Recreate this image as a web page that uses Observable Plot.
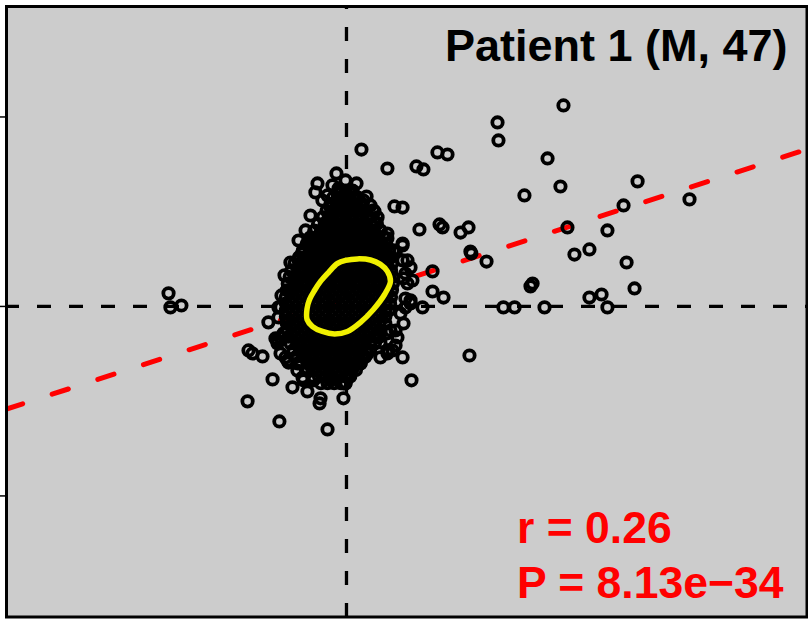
<!DOCTYPE html>
<html>
<head>
<meta charset="utf-8">
<script src="https://cdn.jsdelivr.net/npm/d3@7"></script>
<script src="https://cdn.jsdelivr.net/npm/@observablehq/plot@0.6"></script>
<style>
  html, body { margin: 0; padding: 0; background: #ffffff; }
  #chart svg { display: block; }
</style>
</head>
<body>
<div id="chart"></div>
<script>
// ---- Data (arbitrary units; ticks on y at -100, 0, 100) ----
const titleText = "Patient 1 (M, 47)";
const statLines = ["r = 0.26", "P = 8.13e\u221234"];
const yTicks = [-100, 0, 100];
const crossX = [0];
const crossY = [0];

// regression fit (red dashed line)
const fitIntercept = 4.06;
const fitSlope = 0.3245;

// isolated points [x, y]
const outliers = [
  [114.5,106.1],[79.7,97.1],[80.2,87.6],[48.0,81.3],[53.3,80.2],[106.1,78.1],[40.6,72.3],[36.9,73.9],
  [7.9,82.8],[21.6,72.8],[112.9,63.3],[93.9,58.6],[153.6,66.0],[181.0,56.5],[146.2,53.3],[116.6,41.7],
  [137.7,40.1],[49.1,43.3],[50.7,41.7],[38.5,40.6],[60.2,39.0],[64.4,41.7],[65.4,29.0],[65.9,27.9],
  [73.9,23.7],[120.3,27.4],[128.2,30.1],[147.8,23.2],[152.0,9.5],[45.4,18.5],[45.4,7.9],[51.2,4.7],
  [98.2,12.1],[97.1,10.6],[128.2,4.7],[134.6,6.3],[82.8,-0.5],[88.7,-0.5],[104.5,-0.5],[137.7,-0.5],
  [40.1,-0.5],[64.9,-25.9],[29.6,-26.9],[34.3,-39.0],[25.3,52.8],[29.6,52.2],[14.8,50.1],[10.6,58.0],
  [17.9,40.1],[21.6,35.9],[29.6,32.2],
  [-5.3,70.2],[-15.3,64.9],[-16.4,60.2],[-10.0,58.6],[-7.4,63.9],[-4.2,62.3],[-6.9,49.1],
  [-93.9,6.9],[-92.9,-0.5],[-87.1,0.5],[-41.2,-8.4],[-51.7,-23.2],[-49.6,-24.8],[-44.3,-26.4],
  [-39.0,-38.5],[-52.2,-50.1],[-35.4,-60.7],[-28.5,-42.7],[-35.9,-0.5],[-26.9,10.6],[-20.6,-44.9],
  [-13.7,-48.5],[-14.2,-51.2],[-1.6,-48.5],[-10.0,-64.9],[5.8,-29.6],[-0.5,-40.6],[24.3,-23.2],
  [21.6,-24.8],[-37.5,-16.9]
];

// points on the rim of the dense cluster [x, y]
const rimPoints = [
  [3.2,61.2],[6.3,57.0],[-0.5,66.5],[12.7,53.3],[5.3,64.9],[-2.1,54.9],[-8.4,41.7],[-17.9,32.2],
  [-23.2,28.0],[29.6,33.2],[32.2,24.3],[33.8,20.6],[30.1,14.8],[34.8,13.7],[31.1,4.2],[33.8,1.6],
  [28.5,-3.7],[23.2,-12.7],[22.2,-23.2],[25.9,-20.6],[16.4,-16.4],[-36.4,-17.9],[-34.8,-24.8],
  [-31.1,-28.5],[-33.2,-14.2],[-30.6,-7.4],[-30.6,-29.6],[-25.9,-33.8],[-22.7,-39.0],[-17.4,-38.0],
  [-8.4,-37.5],[2.1,-35.4],[11.1,-24.8],[17.9,-19.0],[21.6,-14.2],[25.9,-12.7],[-34.3,5.8],
  [-32.7,16.4],[-29.6,23.2],[-12.7,55.9],[-19.0,48.0],[-21.6,40.1],[-25.3,34.8],[15.8,44.3],[25.9,28.5],
  [-16.4,31.1],[-23.2,28.5],[-19.0,33.2],[-25.3,24.3],[-26.9,10.0],[-34.8,-0.5],[-35.9,-5.8],
  [-34.8,-16.4],[-36.4,-19.5],[-32.2,-26.9],[-25.9,-30.1],[-23.2,-37.5],[-17.4,-39.0],[-8.4,-39.0],
  [-1.6,-40.6],[7.4,-30.1],[17.9,-26.9],[21.6,-23.2],[26.9,-16.4],[30.1,-9.0],[31.1,-0.5],[33.8,3.2],
  [32.2,12.1],[31.1,17.4],[29.6,24.3],[24.8,29.6],[21.6,38.5],[16.4,47.0],[14.2,50.7],[9.0,55.9],
  [2.1,59.6],[-3.2,59.6],[-8.4,52.2],[-10.0,45.4],[-13.7,38.5],[-19.0,34.8]
];

// dense core of the cluster, one entry per row: [y, [x...]]
const coreRows = [
  [61,   [-4, -0.5, 3]],
  [57.5, [-7, -3.5, 0, 3.5, 6]],
  [54,   [-8.5, -5, -1.5, 2, 5.5, 8.5]],
  [50.5, [-10.5, -7, -3.5, 0, 3.5, 7, 10.5]],
  [47,   [-12.5, -9, -5.5, -2, 1.5, 5, 8.5, 12]],
  [43.5, [-15, -11.5, -8, -4.5, -1, 2.5, 6, 9.5, 13, 16]],
  [40,   [-17, -13.5, -10, -6.5, -3, 0.5, 4, 7.5, 11, 14.5, 18]],
  [36.5, [-19, -15.5, -12, -8.5, -5, -1.5, 2, 5.5, 9, 12.5, 16, 19.5]],
  [33,   [-21, -17.5, -14, -10.5, -7, -3.5, 0, 3.5, 7, 10.5, 14, 17.5, 21]],
  [29.5, [-23, -19.5, -16, -12.5, -9, -5.5, -2, 1.5, 5, 8.5, 12, 15.5, 19, 22.5]],
  [26,   [-25, -21.5, -18, -14.5, -11, -7.5, -4, -0.5, 3, 6.5, 10, 13.5, 17, 20.5, 23.5]],
  [22.5, [-27.5, -24, -20.5, -17, -13.5, -10, -6.5, -3, 0.5, 4, 7.5, 11, 14.5, 18, 21.5, 24]],
  [19,   [-29, -25.5, -22, -18.5, -15, -11.5, -8, -4.5, -1, 2.5, 6, 9.5, 13, 16.5, 20, 23.5]],
  [15.5, [-30, -26.5, -23, -19.5, -16, -12.5, -9, -5.5, -2, 1.5, 5, 8.5, 12, 15.5, 19, 22.5, 24.5]],
  [12,   [-31, -27.5, -24, -20.5, -17, -13.5, -10, -6.5, -3, 0.5, 4, 7.5, 11, 14.5, 18, 21.5, 24.5]],
  [8.5,  [-31.5, -28, -24.5, -21, -17.5, -14, -10.5, -7, -3.5, 0, 3.5, 7, 10.5, 14, 17.5, 21, 24]],
  [5,    [-32, -28.5, -25, -21.5, -18, -14.5, -11, -7.5, -4, -0.5, 3, 6.5, 10, 13.5, 17, 20.5, 23.5]],
  [1.5,  [-32, -28.5, -25, -21.5, -18, -14.5, -11, -7.5, -4, -0.5, 3, 6.5, 10, 13.5, 17, 20.5, 23]],
  [-2,   [-32, -28.5, -25, -21.5, -18, -14.5, -11, -7.5, -4, -0.5, 3, 6.5, 10, 13.5, 17, 20.5, 22.5]],
  [-5.5, [-32, -28.5, -25, -21.5, -18, -14.5, -11, -7.5, -4, -0.5, 3, 6.5, 10, 13.5, 17, 20.5]],
  [-9,   [-31.5, -28, -24.5, -21, -17.5, -14, -10.5, -7, -3.5, 0, 3.5, 7, 10.5, 14, 17.5, 20.5]],
  [-12.5,[-31, -27.5, -24, -20.5, -17, -13.5, -10, -6.5, -3, 0.5, 4, 7.5, 11, 14.5, 18]],
  [-16,  [-30.5, -27, -23.5, -20, -16.5, -13, -9.5, -6, -2.5, 1, 4.5, 8, 11.5, 15, 17.5]],
  [-19.5,[-29.5, -26, -22.5, -19, -15.5, -12, -8.5, -5, -1.5, 2, 5.5, 9, 12.5, 15]],
  [-23,  [-28, -24.5, -21, -17.5, -14, -10.5, -7, -3.5, 0, 3.5, 7, 10.5, 12.5]],
  [-26.5,[-26.5, -23, -19.5, -16, -12.5, -9, -5.5, -2, 1.5, 5, 8.5, 10]],
  [-30,  [-24, -20.5, -17, -13.5, -10, -6.5, -3, 0.5, 4, 7.5]],
  [-33.5,[-21.5, -18, -14.5, -11, -7.5, -4, -0.5, 3, 5]],
  [-37,  [-18, -14.5, -11, -7.5, -4, -0.5, 2]],
  [-40.5,[-13.5, -10, -6.5, -3, -0.5]]
];

// yellow density contour
const contourX = [5.8, -0.5, -4.7, -9.5, -13.7, -16.9, -19.5, -20.8, -20.8, -17.9, -12.7, -6.3, 0.5, 7.4, 14.2, 20.1, 23.2, 21.6, 17.9, 12.7];
const contourY = [25.1, 24.3, 22.7, 17.9, 13.2, 8.4, 3.7, -1.1, -6.9, -10.6, -13.2, -14.5, -13.2, -8.4, -1.6, 6.3, 13.2, 18.5, 22.2, 24.5];

// ---- Build tables ----
const xDomain = [-179.4, 243.0];
const yDomain = [-163.9, 158.3];

const points = [];
for (const [y, xs] of coreRows) for (const x of xs) points.push({x, y});
for (const [x, y] of rimPoints) points.push({x, y});
for (const [x, y] of outliers) points.push({x, y});

const fitLine = xDomain.map(x => ({x, y: fitIntercept + fitSlope * x}));
const contour = contourX.map((x, i) => ({x, y: contourY[i]}));

const font = "'Liberation Sans', Arial, Helvetica, sans-serif";

const chart = Plot.plot({
  width: 808,
  height: 619,
  marginLeft: 6,
  marginTop: 6,
  marginRight: 1.5,
  marginBottom: 2.5,
  style: {background: "#ffffff", fontFamily: font},
  x: {domain: xDomain, axis: null},
  y: {domain: yDomain, axis: null},
  marks: [
    Plot.frame({fill: "#cccccc"}),
    Plot.axisY(yTicks, {tickSize: 6, tickFormat: () => "", strokeWidth: 1.5, label: null}),
    Plot.ruleY(crossY, {stroke: "black", strokeWidth: 3.3, strokeDasharray: "14,18", strokeDashoffset: 1}),
    Plot.ruleX(crossX, {stroke: "black", strokeWidth: 3.3, strokeDasharray: "14,18", strokeDashoffset: 11}),
    Plot.line(fitLine, {x: "x", y: "y", stroke: "#ff0000", strokeWidth: 5, strokeDasharray: "17,31", strokeLinecap: "round", clip: true}),
    Plot.dot(points, {x: "x", y: "y", r: 5.2, stroke: "black", strokeWidth: 3.8, fill: "none"}),
    Plot.line(contour, {x: "x", y: "y", stroke: "#f0f000", strokeWidth: 5.5, curve: "catmull-rom-closed"}),
    Plot.text([titleText], {frameAnchor: "top-right", dx: -19.5, dy: 54, textAnchor: "end", lineAnchor: "bottom",
      fontSize: 45, fontWeight: "bold", fill: "black", fontFamily: font}),
    Plot.text([statLines[0]], {frameAnchor: "bottom-right", dx: -290, dy: -74.5, textAnchor: "start", lineAnchor: "bottom",
      fontSize: 44.5, fontWeight: "bold", fill: "#ff0000", fontFamily: font}),
    Plot.text([statLines[1]], {frameAnchor: "bottom-right", dx: -290, dy: -19.5, textAnchor: "start", lineAnchor: "bottom",
      fontSize: 44.5, fontWeight: "bold", fill: "#ff0000", fontFamily: font}),
    Plot.frame({stroke: "black", strokeWidth: 3})
  ]
});
document.getElementById("chart").appendChild(chart);
</script>
</body>
</html>
